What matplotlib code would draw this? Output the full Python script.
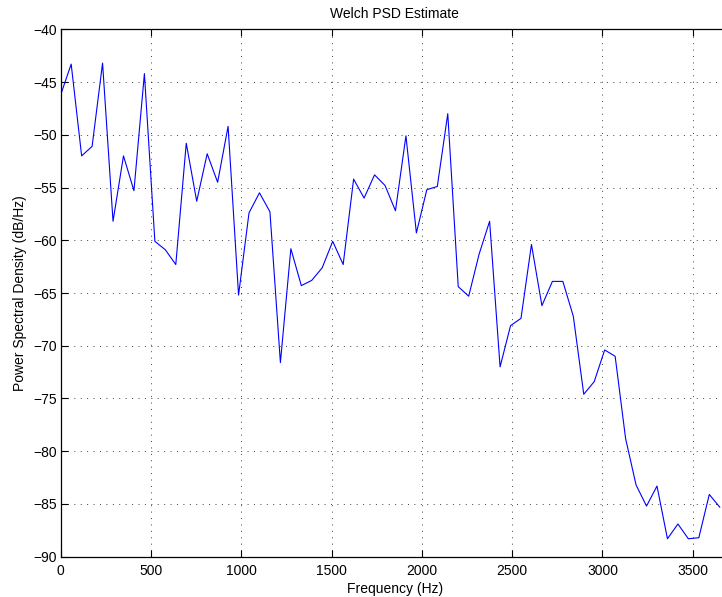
import numpy as np
import matplotlib
matplotlib.use("Agg")
import matplotlib.pyplot as plt

plt.rcParams['font.family'] = ['Liberation Sans', 'DejaVu Sans']

# Welch PSD estimate (dB/Hz) on a uniform frequency grid
fs = 7415.0
nfft = 128
psd_db = [
    -46.2, -43.3, -52.0, -51.1, -43.2, -58.2, -52.0, -55.3, -44.2, -60.1,
    -60.9, -62.3, -50.8, -56.3, -51.8, -54.5, -49.2, -65.2, -57.4, -55.5,
    -57.3, -71.6, -60.8, -64.3, -63.8, -62.6, -60.1, -62.3, -54.2, -56.0,
    -53.8, -54.8, -57.2, -50.1, -59.3, -55.2, -54.9, -48.0, -64.4, -65.3,
    -61.3, -58.2, -72.0, -68.1, -67.4, -60.4, -66.2, -63.9, -63.9, -67.2,
    -74.6, -73.4, -70.4, -71.0, -78.8, -83.2, -85.2, -83.3, -88.3, -86.9,
    -88.3, -88.2, -84.1, -85.3,
]
freqs = np.arange(len(psd_db)) * fs / nfft

x_ticks = [0, 500, 1000, 1500, 2000, 2500, 3000, 3500]
y_ticks = [-90, -85, -80, -75, -70, -65, -60, -55, -50, -45, -40]

fig = plt.figure(figsize=(7.22, 5.97), dpi=100)
ax = fig.add_axes([0.0841, 0.0675, 0.9254, 0.8834])

ax.plot(freqs, psd_db, color=(0, 0, 1), lw=0.8)

ax.set_xlim(0, 3700)
ax.set_ylim(-90, -40)
ax.set_xticks(x_ticks)
ax.set_yticks(y_ticks)
ax.set_xticklabels([str(t) for t in x_ticks])
ax.set_yticklabels(['\u2212' + str(abs(t)) for t in y_ticks])

ax.grid(True, color='k', lw=0.7, linestyle=(0, (1, 5.6)), alpha=0.75)
ax.tick_params(direction='in', length=5, width=0.8, top=True, right=True,
               labelsize=10, colors='k', pad=3)
ax.tick_params(axis='x', pad=5.5)
for sp in ax.spines.values():
    sp.set_linewidth(0.9)

ax.set_title('Welch PSD Estimate', fontsize=10, pad=8)
ax.set_xlabel('Frequency (Hz)', fontsize=10, labelpad=2.5)
ax.set_ylabel('Power Spectral Density (dB/Hz)', fontsize=10, labelpad=4)

fig.savefig('out.png', dpi=100)
